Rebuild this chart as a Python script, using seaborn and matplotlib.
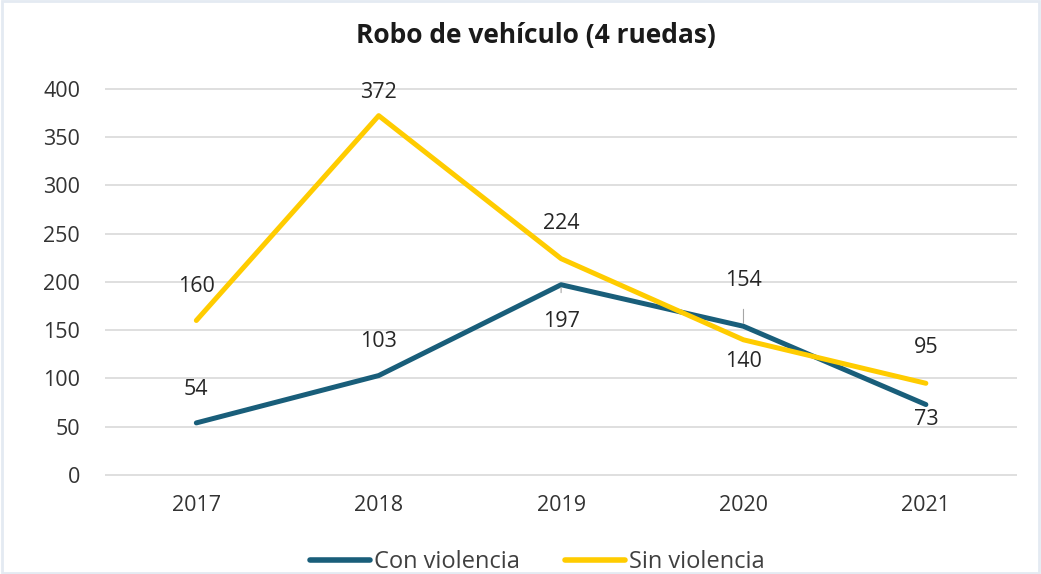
import matplotlib
matplotlib.use("Agg")
import matplotlib.pyplot as plt
import seaborn as sns
import pandas as pd
from matplotlib.patches import Rectangle

years = ["2017", "2018", "2019", "2020", "2021"]
con_violencia = [54, 103, 197, 154, 73]
sin_violencia = [160, 372, 224, 140, 95]
series_names = ["Con violencia", "Sin violencia"]
title = "Robo de vehículo (4 ruedas)"

df = pd.DataFrame({
    "Año": years * 2,
    "Valor": con_violencia + sin_violencia,
    "Serie": [series_names[0]] * len(years) + [series_names[1]] * len(years),
})

sns.set_style("white")
plt.rcParams["font.family"] = ["Open Sans", "DejaVu Sans"]

colors = {series_names[0]: "#195E7A", series_names[1]: "#FFCC00"}
fs = 15.5

fig = plt.figure(figsize=(10.41, 5.74), dpi=100)
ax = fig.add_axes([0.101, 0.171, 0.876, 0.676])

sns.lineplot(data=df, x="Año", y="Valor", hue="Serie", palette=colors,
             linewidth=3.6, ax=ax, sort=False, legend=True)

ax.set_xlim(-0.5, len(years) - 0.5)
ax.set_ylim(-0.8, 400.8)
ax.set_yticks(range(0, 401, 50))
ax.yaxis.grid(True, color="#D9D9D9", linewidth=1.2)
ax.xaxis.grid(False)
ax.set_axisbelow(True)
for s in ax.spines.values():
    s.set_visible(False)
ax.tick_params(axis="both", length=0, labelsize=fs, colors="#333333")
ax.tick_params(axis="y", pad=18)
ax.tick_params(axis="x", pad=14)
ax.set_xlabel("")
ax.set_ylabel("")

# data labels (offsets in pixels)
off_con = [33, 34, -37, 46, -15]
off_sin = [34, 23, 35, -22, 36]
for i, (v, o) in enumerate(zip(con_violencia, off_con)):
    ap = None
    if i in (2, 3):
        ap = dict(arrowstyle="-", color="#A6A6A6", lw=0.8, shrinkA=11, shrinkB=2)
    ax.annotate(str(v), (i, v), xytext=(0, o), textcoords="offset pixels",
                ha="center", va="center", fontsize=fs, color="#262626",
                arrowprops=ap)
for i, (v, o) in enumerate(zip(sin_violencia, off_sin)):
    ax.annotate(str(v), (i, v), xytext=(0, o), textcoords="offset pixels",
                ha="center", va="center", fontsize=fs, color="#262626")

fig.text(0.515, 0.939, title, ha="center", va="center", fontsize=19,
         fontweight="bold", color="#1a1a1a")

handles, labels = ax.get_legend_handles_labels()
ax.get_legend().remove()
leg = fig.legend(handles, labels, loc="center", bbox_to_anchor=(0.516, 0.021), ncol=2,
                 frameon=False, fontsize=17, handlelength=2.55, handletextpad=0.17,
                 columnspacing=1.9)
for t in leg.get_texts():
    t.set_color("#404040")
for h in leg.legend_handles:
    h.set_linewidth(4)

fig.patches.append(Rectangle((0.002, 0.002), 0.996, 0.996, transform=fig.transFigure,
                             fill=False, edgecolor="#E4EAF2", linewidth=2))

fig.savefig("out.png", dpi=100)
